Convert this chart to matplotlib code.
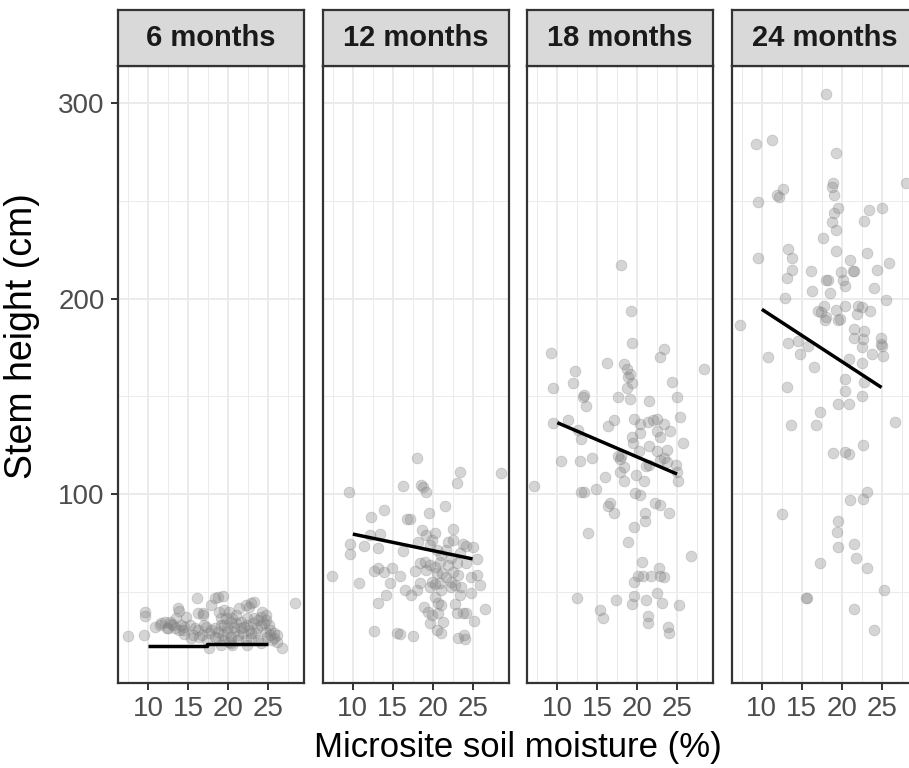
import matplotlib
matplotlib.use("Agg")
import matplotlib.pyplot as plt
from matplotlib.ticker import FixedLocator

plt.rcParams["font.family"] = ["Liberation Sans", "DejaVu Sans"]

# ── Data: microsite soil moisture (%) vs stem height (cm) ────────────────────
PANELS = ["6 months", "12 months", "18 months", "24 months"]

moist_6 = [7.4, 9.5, 9.6, 9.6, 10.8, 11.4, 12.05, 12.5, 12.9, 13.3, 13.7, 13.9, 13.5, 14.7,
           14.5, 15.8, 16.1, 16.4, 16.9, 17.2, 17.6, 17.85, 18.3, 18.7, 19.3, 17.6, 18.3,
           18.9, 19.1, 19.5, 19.9, 20.3, 20.7, 20.5, 21.2, 21.4, 21.6, 22.2, 22.6, 22.8,
           23.2, 22.4, 22.8, 23.2, 23.6, 24.1, 24.5, 24.7, 25.1, 25.3, 25.7, 26.1, 26.7,
           28.4, 19.5, 20.1, 18.7, 11.6, 12.3, 12.7, 13.1, 14.1, 14.3, 15.2, 15.6, 16.2,
           16.7, 17.0, 16.2, 16.8, 18.3, 18.7, 19.1, 19.3, 19.7, 19.9, 20.3, 20.5, 20.7,
           20.95, 21.2, 21.6, 21.8, 22.0, 22.2, 22.4, 22.6, 22.9, 23.1, 23.4, 23.8, 24.1,
           24.3, 24.7, 24.9, 25.3, 25.5, 20.1, 20.95, 19.5, 17.85, 17.4, 15.4, 14.5, 13.9,
           19.1, 20.3, 24.1, 22.4, 26.1, 25.7, 24.7, 23.8]
height_6 = [27.5, 27.9, 39.5, 37.8, 31.8, 33.0, 34.7, 31.6, 33.3, 31.3, 41.5, 40.2, 36.4, 37.3,
            28.2, 31.3, 47.0, 27.0, 39.0, 32.2, 28.7, 43.2, 46.6, 47.5, 48.0, 21.1, 31.3,
            39.8, 36.4, 33.0, 29.6, 34.7, 32.2, 22.8, 27.9, 41.5, 31.3, 43.2, 42.4, 44.1,
            44.6, 33.0, 28.7, 36.4, 31.3, 37.3, 33.8, 29.6, 33.0, 27.9, 26.2, 24.5, 21.1,
            44.1, 25.3, 24.5, 26.2, 33.9, 31.3, 34.7, 33.0, 33.0, 30.4, 33.0, 27.9, 30.4,
            27.9, 33.0, 39.0, 38.1, 27.0, 29.6, 33.0, 27.9, 36.4, 31.3, 27.0, 36.4, 29.6,
            33.8, 25.3, 34.7, 28.7, 32.2, 25.3, 36.4, 30.4, 26.2, 33.8, 28.7, 25.3, 33.0,
            39.8, 35.5, 27.0, 30.4, 25.3, 39.8, 38.1, 40.7, 30.4, 25.3, 26.2, 32.2, 30.4,
            22.8, 23.6, 23.6, 22.8, 27.9, 28.7, 38.1, 35.5]

moist_12 = [18.0, 23.4, 23.0, 28.5, 9.5, 16.3, 18.6, 18.8, 19.2, 21.6, 13.9, 12.3, 19.6, 16.8,
            17.2, 18.7, 19.2, 20.3, 22.5, 9.6, 9.7, 11.4, 12.1, 13.4, 13.2, 16.3, 18.2, 19.7,
            21.9, 22.6, 23.8, 24.2, 25.1, 25.5, 7.4, 10.8, 12.6, 13.1, 13.9, 14.9, 15.9, 14.6,
            16.5, 17.3, 18.0, 18.4, 17.8, 18.4, 19.2, 20.9, 20.5, 21.2, 21.7, 19.9, 20.3, 20.9,
            22.3, 22.8, 23.2, 23.6, 24.8, 25.5, 25.9, 24.8, 14.1, 13.2, 18.9, 19.4, 19.9, 19.7,
            20.3, 20.7, 21.1, 21.3, 20.5, 21.1, 22.8, 23.0, 24.2, 25.2, 26.6, 12.6, 15.5, 15.9,
            17.5, 23.2, 23.9, 24.0, 19.9, 20.5, 21.1, 21.7, 22.3, 23.0, 23.4, 24.2, 21.9, 22.6,
            19.0, 19.7, 20.3, 19.7, 21.1, 22.3, 23.4, 23.8, 20.7]
height_12 = [118.2, 111.4, 105.8, 110.5, 101.2, 104.2, 104.6, 103.4, 101.2, 94.0, 91.8, 88.4,
             90.4, 87.0, 87.0, 81.6, 79.0, 80.2, 81.9, 74.4, 69.3, 73.4, 79.0, 79.5, 72.2, 71.0,
             75.6, 73.9, 75.6, 76.4, 74.4, 73.4, 72.7, 66.7, 58.2, 54.3, 60.8, 62.0, 60.3, 62.3,
             58.2, 54.3, 50.9, 48.3, 50.9, 54.3, 60.6, 64.5, 61.1, 65.0, 59.4, 59.4, 57.7, 55.1,
             53.9, 54.6, 55.1, 53.4, 58.6, 52.6, 57.7, 58.6, 53.4, 49.2, 48.3, 44.4, 42.3, 39.8,
             38.1, 34.2, 47.5, 44.1, 43.2, 34.7, 30.4, 29.1, 43.7, 39.3, 39.3, 35.2, 41.0, 29.9,
             28.7, 28.4, 27.5, 26.1, 27.9, 25.6, 76.4, 71.3, 68.8, 71.3, 67.1, 64.5, 69.6, 64.5,
             63.7, 60.3, 65.4, 63.7, 62.8, 52.6, 50.9, 52.6, 48.3, 38.9, 39.3]

moist_18 = [18.0, 19.2, 19.4, 9.2, 23.3, 22.9, 28.4, 16.2, 18.4, 18.7, 19.1, 18.9, 19.3, 18.7,
            9.45, 12.2, 11.9, 24.4, 13.4, 13.6, 13.2, 17.6, 19.1, 21.5, 25.0, 25.4, 9.4, 11.3,
            16.3, 17.1, 19.6, 20.3, 21.4, 22.0, 22.5, 23.3, 24.1, 22.5, 22.8, 19.3, 19.5, 20.3,
            12.6, 13.0, 25.7, 21.5, 22.5, 23.7, 20.2, 10.5, 12.8, 14.4, 17.6, 18.0, 17.8, 18.3,
            17.8, 18.3, 16.0, 19.8, 20.8, 21.1, 21.5, 22.9, 23.3, 23.7, 25.0, 25.1, 24.9, 7.06,
            13.0, 13.4, 14.8, 19.7, 20.4, 22.2, 22.8, 16.6, 16.4, 17.1, 21.0, 21.0, 24.0, 13.9,
            19.6, 18.8, 26.7, 20.6, 19.6, 20.1, 20.7, 21.7, 22.7, 22.9, 23.4, 22.5, 12.5, 17.3,
            19.6, 19.3, 21.1, 23.1, 25.2, 15.3, 15.7, 21.3, 21.3, 23.9, 24.0]
height_18 = [217.2, 193.6, 177.1, 172.3, 174.2, 170.3, 163.8, 166.9, 166.5, 163.8, 161.4, 160.0,
             157.0, 154.1, 154.4, 162.9, 156.8, 157.5, 150.7, 145.0, 149.8, 149.8, 148.6, 147.4,
             149.8, 139.6, 136.5, 137.9, 134.8, 137.9, 138.2, 135.6, 136.7, 137.9, 138.2, 135.6,
             132.4, 132.2, 129.0, 129.4, 126.3, 131.0, 132.8, 128.0, 126.3, 124.6, 122.2, 122.5,
             122.2, 116.9, 116.9, 118.6, 119.5, 119.5, 117.7, 114.0, 111.4, 106.7, 108.5, 109.7,
             106.7, 114.3, 114.8, 117.4, 118.3, 116.6, 111.4, 106.7, 114.8, 104.3, 101.2, 100.9,
             102.7, 100.4, 99.5, 95.6, 94.4, 95.6, 93.9, 90.5, 90.5, 86.4, 90.5, 80.2, 83.3,
             75.3, 68.3, 65.4, 55.2, 58.2, 58.1, 58.1, 62.0, 58.1, 57.4, 49.5, 46.6, 45.8, 47.8,
             43.6, 45.8, 44.1, 43.2, 40.4, 36.4, 37.6, 33.9, 32.2, 29.1]

moist_24 = [18.0, 9.25, 11.25, 19.3, 9.5, 12.2, 12.7, 11.96, 18.96, 18.75, 19.0, 19.5, 19.0,
            18.75, 19.25, 22.8, 23.4, 25.0, 28.1, 17.7, 19.3, 23.2, 9.5, 13.3, 13.8, 13.8, 13.2,
            16.1, 18.3, 18.1, 19.9, 20.2, 20.4, 21.1, 21.4, 21.6, 24.4, 25.9, 24.0, 16.3, 18.6,
            12.9, 25.5, 7.3, 20.4, 22.1, 22.5, 17.8, 17.4, 18.1, 17.0, 17.9, 19.25, 19.5, 19.8,
            21.9, 23.6, 21.5, 22.8, 21.5, 22.7, 22.6, 24.9, 25.1, 24.9, 25.2, 23.8, 13.3, 14.5,
            14.8, 15.8, 10.8, 16.5, 20.9, 22.6, 20.4, 20.4, 22.8, 22.5, 13.1, 19.5, 20.9, 17.3,
            16.75, 13.7, 26.7, 18.96, 20.4, 20.9, 22.7, 12.5, 19.6, 19.4, 19.5, 21.1, 22.7, 23.2,
            21.5, 21.75, 23.2, 17.3, 15.7, 15.5, 25.3, 21.5, 24.0]
height_24 = [304.8, 279.0, 281.2, 274.4, 249.3, 252.2, 256.1, 252.9, 259.1, 257.3, 252.9, 246.5,
             243.6, 239.2, 235.1, 239.7, 245.4, 246.1, 259.1, 231.0, 224.2, 223.3, 220.7, 225.3,
             220.7, 214.6, 210.7, 214.1, 209.3, 209.5, 213.4, 209.3, 206.6, 219.6, 213.9, 214.1,
             214.6, 218.0, 205.4, 203.9, 202.7, 200.2, 199.3, 186.7, 196.3, 196.3, 195.6, 196.3,
             192.9, 190.6, 193.6, 188.8, 194.0, 188.8, 189.5, 192.2, 193.6, 184.2, 183.3, 179.6,
             179.2, 175.1, 179.9, 175.8, 176.9, 170.7, 171.7, 177.4, 178.5, 171.7, 175.8, 170.0,
             164.8, 168.9, 167.1, 159.1, 152.9, 157.5, 150.0, 154.5, 146.1, 146.1, 142.2, 135.3,
             135.1, 136.9, 121.0, 121.7, 120.5, 125.1, 89.7, 86.0, 80.5, 73.0, 97.0, 97.7, 101.1,
             74.2, 67.3, 62.3, 64.6, 46.8, 46.8, 50.9, 41.1, 30.3]

# model predictions over the 10-25 % moisture range
fit_x_6 = [10, 17.4, 17.4, 25]
fit_y_6 = [22.2, 22.2, 23.1, 23.1]
fit_x = [10, 25]
fit_y_12 = [79.5, 66.8]
fit_y_18 = [136.5, 110.2]
fit_y_24 = [194.5, 154.5]

SERIES = [
    (moist_6, height_6, fit_x_6, fit_y_6),
    (moist_12, height_12, fit_x, fit_y_12),
    (moist_18, height_18, fit_x, fit_y_18),
    (moist_24, height_24, fit_x, fit_y_24),
]

# ── Style ────────────────────────────────────────────────────────────────────
BORDER = "#333333"
GRID = "#EBEBEB"
STRIP = "#D9D9D9"
TICKLAB = "#4D4D4D"
POINT = "#7F7F7F"

W, H = 909, 768
LEFTS = [118, 322.5, 527, 731.5]
PW = 186
PANEL_TOP, PANEL_BOT = 66, 683
STRIP_TOP = 10

fig = plt.figure(figsize=(W / 100, H / 100), dpi=100)
fig.patch.set_facecolor("white")

for i, (name, (mx, hy, fx, fy)) in enumerate(zip(PANELS, SERIES)):
    ax = fig.add_axes([LEFTS[i] / W, (H - PANEL_BOT) / H,
                       PW / W, (PANEL_BOT - PANEL_TOP) / H])
    ax.set_xlim(6.2, 29.5)
    ax.set_ylim(3.3, 319)

    ax.xaxis.set_major_locator(FixedLocator([10, 15, 20, 25]))
    ax.xaxis.set_minor_locator(FixedLocator([7.5, 12.5, 17.5, 22.5, 27.5]))
    ax.yaxis.set_major_locator(FixedLocator([100, 200, 300]))
    ax.yaxis.set_minor_locator(FixedLocator([50, 150, 250]))
    ax.grid(which="major", color=GRID, lw=1.4, zorder=0)
    ax.grid(which="minor", color=GRID, lw=0.7, zorder=0)
    ax.set_axisbelow(True)

    ax.scatter(mx, hy, s=60, facecolor=POINT, edgecolor=POINT,
               linewidths=0.6, alpha=0.32, zorder=2)
    ax.plot(fx, fy, color="black", lw=2.5, solid_capstyle="butt", zorder=3)

    for sp in ax.spines.values():
        sp.set_color(BORDER)
        sp.set_linewidth(1.6)

    ax.tick_params(which="major", length=5, width=1.4, color=BORDER,
                   labelcolor=TICKLAB, labelsize=20, pad=4.5)
    ax.tick_params(which="minor", length=0)
    if i > 0:
        ax.tick_params(axis="y", left=False, labelleft=False)

    # facet strip
    sax = fig.add_axes([LEFTS[i] / W, (H - PANEL_TOP) / H,
                        PW / W, (PANEL_TOP - STRIP_TOP) / H])
    sax.set_facecolor(STRIP)
    sax.set_xticks([])
    sax.set_yticks([])
    for sp in sax.spines.values():
        sp.set_color(BORDER)
        sp.set_linewidth(1.6)
    sax.text(0.5, 0.5, name, ha="center", va="center", fontsize=21,
             fontweight="bold", color="#1A1A1A", transform=sax.transAxes)

fig.text(518 / W, 1 - 747 / H, "Microsite soil moisture (%)", ha="center",
         va="center", fontsize=25, color="black")
fig.text(22 / W, 1 - 336 / H, "Stem height (cm)", ha="center", va="center",
         rotation=90, fontsize=27, color="black")

fig.savefig("out.png", dpi=100, facecolor="white")
